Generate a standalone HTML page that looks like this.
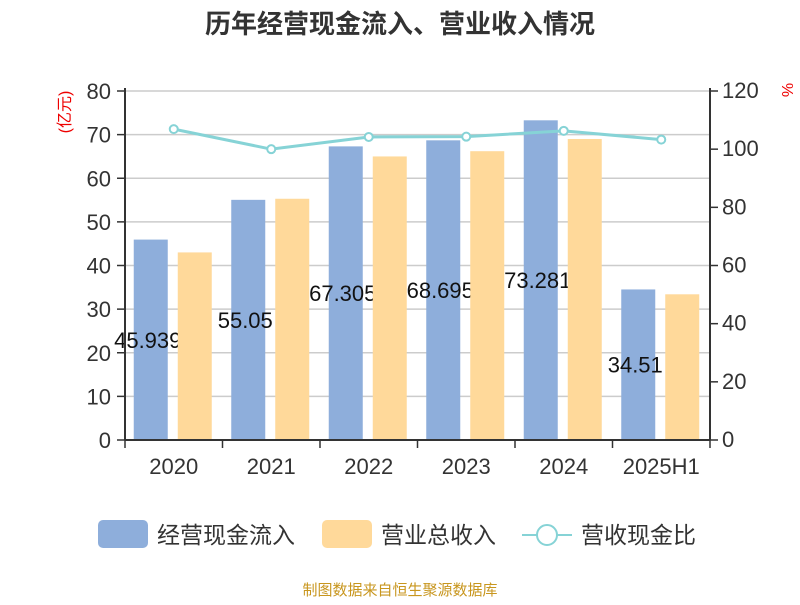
<!DOCTYPE html>
<html><head><meta charset="utf-8"><style>
body{margin:0;background:#fff;}
svg text{font-family:"Liberation Sans","Noto Sans CJK SC",sans-serif;}
</style></head><body>
<svg id="c" width="800" height="600" xmlns="http://www.w3.org/2000/svg">
<text x="400" y="33" text-anchor="middle" font-size="26" font-weight="bold" fill="#333">历年经营现金流入、营业收入情况</text>
<text x="70" y="112" text-anchor="middle" font-size="16" fill="#e00" transform="rotate(-90 70 112)">(亿元)</text>
<text x="782" y="90" text-anchor="middle" font-size="16" fill="#e00" transform="rotate(90 782 90)">%</text>
<g id="grid"></g><g id="bars"></g><g id="labels"></g><g id="bars2"></g><g id="axes"></g><g id="line"></g>
<g>
<rect x="98" y="520" width="50" height="28" rx="5" fill="#8eaedb"/>
<text x="157" y="543" font-size="23" fill="#333">经营现金流入</text>
<rect x="322" y="520" width="50" height="28" rx="5" fill="#ffd99a"/>
<text x="381" y="543" font-size="23" fill="#333">营业总收入</text>
<line x1="522" y1="535" x2="572" y2="535" stroke="#86d3d6" stroke-width="2"/>
<circle cx="547" cy="535" r="10" fill="#fff" stroke="#86d3d6" stroke-width="2"/>
<text x="581" y="543" font-size="23" fill="#333">营收现金比</text>
</g>
<text x="400" y="595" text-anchor="middle" font-size="15" fill="#c8961e">制图数据来自恒生聚源数据库</text>
</svg>
<script>
const categories=["2020","2021","2022","2023","2024","2025H1"];
const inflow=[45.939,55.05,67.305,68.695,73.281,34.51];
const inflowLabels=["45.939","55.05","67.305","68.695","73.281","34.51"];
const revenue=[43.0,55.3,65.0,66.2,69.0,33.4];
const ratio=[106.9,100.0,104.2,104.3,106.3,103.3];
const leftTicks=[0,10,20,30,40,50,60,70,80];
const rightTicks=[0,20,40,60,80,100,120];
const NS="http://www.w3.org/2000/svg";
const L=125,R=710,T=91,B=440;
const yL=v=>B-(v/80)*(B-T), yR=v=>B-(v/120)*(B-T);
const bw=(R-L)/categories.length;
const xc=i=>L+bw*(i+0.5);
function mk(p,t,a){const e=document.createElementNS(NS,t);for(const k in a)e.setAttribute(k,a[k]);document.getElementById(p).appendChild(e);return e;}
leftTicks.forEach(v=>{
 const g=mk("grid","line",{x1:L,x2:R,y1:yL(v),y2:yL(v),stroke:"#ccc","stroke-width":1.5});
 
 
 mk("axes","line",{x1:L-8,x2:L,y1:yL(v),y2:yL(v),stroke:"#333","stroke-width":1.5});
 const t=mk("axes","text",{x:L-14,y:yL(v)+8,"text-anchor":"end","font-size":22,fill:"#333"});t.textContent=v;
 
 
});
rightTicks.forEach(v=>{
 mk("axes","line",{x1:R,x2:R+8,y1:yR(v),y2:yR(v),stroke:"#333","stroke-width":1.5});
 const t=mk("axes","text",{x:R+12,y:yR(v)+7,"font-size":22,fill:"#333"});t.textContent=v;
 
 
});
mk("axes","line",{x1:L,x2:L,y1:T-3,y2:B,stroke:"#333","stroke-width":2});
mk("axes","line",{x1:R,x2:R,y1:T-3,y2:B,stroke:"#333","stroke-width":2});
mk("axes","line",{x1:L,x2:R,y1:B,y2:B,stroke:"#333","stroke-width":2});
categories.forEach((c,i)=>{
 mk("axes","line",{x1:L+bw*i,x2:L+bw*i,y1:B,y2:B+8,stroke:"#333","stroke-width":1.5});
 if(i==categories.length-1)mk("axes","line",{x1:R,x2:R,y1:B,y2:B+8,stroke:"#333","stroke-width":1.5});
 const t=mk("axes","text",{x:xc(i),y:B+34,"text-anchor":"middle","font-size":22,fill:"#333"});t.textContent=c;
 
 
 const b1=mk("bars","rect",{x:xc(i)-40,y:yL(inflow[i]),width:34,height:B-yL(inflow[i]),fill:"#8eaedb"});
 
 
 const lb=mk("labels","text",{x:xc(i)-26,y:(yL(inflow[i])+B)/2+8,"text-anchor":"middle","font-size":22,fill:"#111"});lb.textContent=inflowLabels[i];
 
 
 const b2=mk("bars2","rect",{x:xc(i)+4,y:yL(revenue[i]),width:34,height:B-yL(revenue[i]),fill:"#ffd99a"});
 
 
});
const pl=mk("line","polyline",{points:ratio.map((v,i)=>xc(i)+","+yR(v)).join(" "),fill:"none",stroke:"#86d3d6","stroke-width":3});


ratio.forEach((v,i)=>{
 const p=mk("line","circle",{cx:xc(i),cy:yR(v),r:4,fill:"#fff",stroke:"#86d3d6","stroke-width":2});
 
 
});
</script>
</body></html>
